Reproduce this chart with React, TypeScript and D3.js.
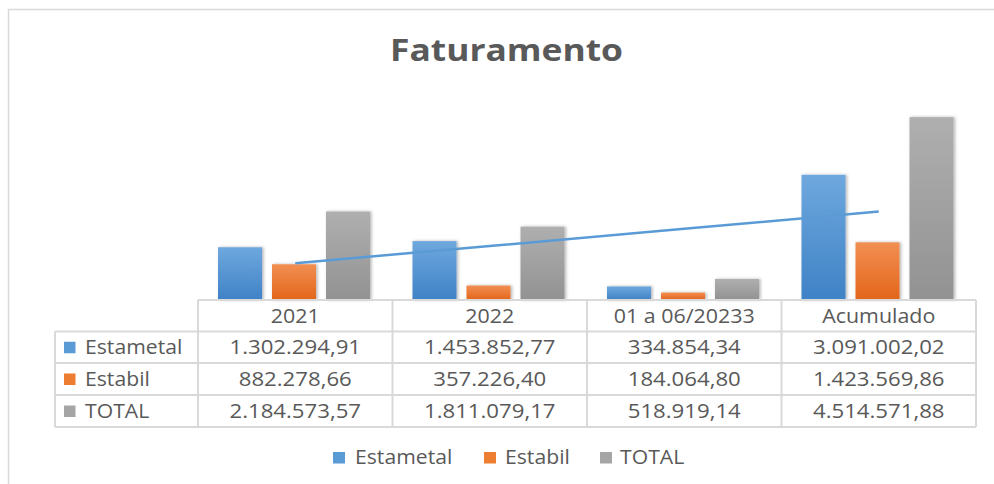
import React from "react";
import * as d3 from "d3";

const categories = ["2021", "2022", "01 a 06/20233", "Acumulado"];
const seriesNames = ["Estametal", "Estabil", "TOTAL"];
const estametal = [1302294.91, 1453852.77, 334854.34, 3091002.02];
const estabil = [882278.66, 357226.4, 184064.8, 1423569.86];
const total = [2184573.57, 1811079.17, 518919.14, 4514571.88];
const estametalLabels = ["1.302.294,91", "1.453.852,77", "334.854,34", "3.091.002,02"];
const estabilLabels = ["882.278,66", "357.226,40", "184.064,80", "1.423.569,86"];
const totalLabels = ["2.184.573,57", "1.811.079,17", "518.919,14", "4.514.571,88"];

const seriesValues = [estametal, estabil, total];
const seriesLabels = [estametalLabels, estabilLabels, totalLabels];
const colors = ["#5B9BD5", "#ED7D31", "#A5A5A5"];
const gradStops = [
  ["#6EA8DE", "#3F82C6"],
  ["#F18F52", "#E3651A"],
  ["#AFAFAF", "#929292"],
];

const FONT = "'Open Sans', 'Noto Sans', sans-serif";
const TEXT = "#595959";
const GRID = "#d9d9d9";

function T({
  x,
  y,
  anchor = "start",
  sx = 1.07,
  children,
}: {
  x: number;
  y: number;
  anchor?: string;
  sx?: number;
  children: React.ReactNode;
}) {
  return (
    <text transform={`translate(${x},${y}) scale(${sx},1)`} textAnchor={anchor as any}>
      {children}
    </text>
  );
}

export default function App() {
  const x = d3.scaleBand<string>().domain(categories).range([198, 976]);
  const inner = d3.scaleBand<string>().domain(seriesNames).range([20, 172]).paddingInner(0.185);
  const y = d3.scaleLinear().domain([0, 5000000]).range([300, 97.5]);

  // linear trendline of Estametal
  const idx = estametal.map((_, i) => i + 1);
  const mx = d3.mean(idx) as number;
  const my = d3.mean(estametal) as number;
  const sxy = d3.sum(idx.map((v, i) => (v - mx) * (estametal[i] - my)));
  const sxx = d3.sum(idx.map((v) => (v - mx) * (v - mx)));
  const slope = sxy / sxx;
  const icpt = my - slope * mx;
  const trendPts: [number, number][] = categories.map((c, i) => [
    (x(c) as number) + x.bandwidth() / 2,
    y(icpt + slope * (i + 1)),
  ]);
  const line = d3.line();

  const tableTop = 300;
  const rowYs = [300, 331.5, 363, 395, 427];
  const colXs = [...categories.map((c) => x(c) as number), 976];
  const leftX = 55;

  const legendItems = [
    { sq: 333, tx: 355 },
    { sq: 484, tx: 505 },
    { sq: 600, tx: 620 },
  ];

  return (
    <svg
      width={994}
      height={484}
      style={{ position: "absolute", left: 0, top: 0, background: "#fff" }}
      fontFamily={FONT}
    >
      <defs>
        {gradStops.map((g, i) => (
          <linearGradient key={i} id={`g${i}`} x1="0" y1="0" x2="0" y2="1">
            <stop offset="0" stopColor={g[0]} />
            <stop offset="1" stopColor={g[1]} />
          </linearGradient>
        ))}
        <filter id="sh" x="-20%" y="-5%" width="140%" height="110%">
          <feDropShadow dx="1.5" dy="0" stdDeviation="1.8" floodColor="#000" floodOpacity="0.3" />
        </filter>
      </defs>
      <rect x={0} y={0} width={994} height={484} fill="#fff" />
      <rect x={8.5} y={9.5} width={1000} height={500} fill="#fff" stroke={GRID} strokeWidth={1.5} />

      <text
        x={506.5}
        y={61}
        textAnchor="middle"
        fontSize={31}
        fontWeight="bold"
        fill={TEXT}
        textLength={233}
        lengthAdjust="spacingAndGlyphs"
      >
        Faturamento
      </text>

      {/* bars */}
      {seriesNames.map((s, si) => (
        <g key={s} filter="url(#sh)">
          {categories.map((c, ci) => {
            const v = seriesValues[si][ci];
            const bx = (x(c) as number) + (inner(s) as number);
            return (
              <rect
                key={c}
                x={bx}
                y={y(v)}
                width={inner.bandwidth()}
                height={y(0) - y(v)}
                fill={`url(#g${si})`}
              />
            );
          })}
        </g>
      ))}

      {/* trendline */}
      <path d={line(trendPts) || ""} stroke="#5B9BD5" strokeWidth={2.5} fill="none" />

      {/* data table grid */}
      <g stroke={GRID} strokeWidth={2}>
        <line x1={colXs[0]} x2={976} y1={tableTop} y2={tableTop} />
        {rowYs.slice(1).map((ry, i) => (
          <line key={i} x1={leftX} x2={976} y1={ry} y2={ry} />
        ))}
        {colXs.map((cx, i) => (
          <line key={i} x1={cx} x2={cx} y1={tableTop} y2={rowYs[4]} />
        ))}
        <line x1={leftX} x2={leftX} y1={rowYs[1]} y2={rowYs[4]} />
      </g>

      <g fontSize={20} fill={TEXT}>
        {categories.map((c) => (
          <T key={c} x={(x(c) as number) + x.bandwidth() / 2} y={323} anchor="middle" sx={1.07}>
            {c}
          </T>
        ))}
        {seriesNames.map((s, si) => {
          const top = rowYs[si + 1];
          const bot = rowYs[si + 2];
          const mid = (top + bot) / 2;
          return (
            <g key={s}>
              <rect x={64} y={mid - 5.5} width={11.5} height={11.5} fill={colors[si]} />
              <T x={85} y={mid + 7} sx={1.06}>
                {s}
              </T>
              {categories.map((c, ci) => (
                <T key={c} x={(x(c) as number) + x.bandwidth() / 2} y={mid + 7} anchor="middle" sx={1.11}>
                  {seriesLabels[si][ci]}
                </T>
              ))}
            </g>
          );
        })}
      </g>

      {/* legend */}
      <g fontSize={20} fill={TEXT}>
        {seriesNames.map((s, si) => (
          <g key={s}>
            <rect x={legendItems[si].sq} y={452} width={12} height={11.5} fill={colors[si]} />
            <T x={legendItems[si].tx} y={464} sx={1.06}>
              {s}
            </T>
          </g>
        ))}
      </g>
    </svg>
  );
}
